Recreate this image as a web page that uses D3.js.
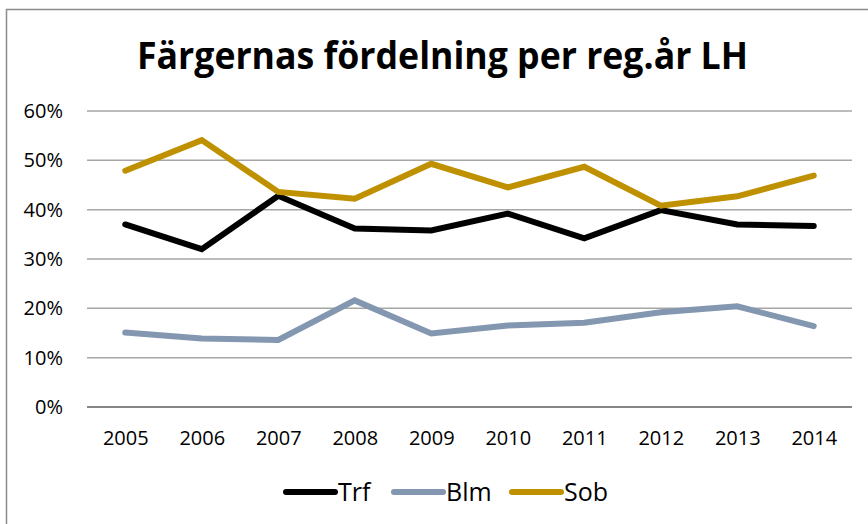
<!DOCTYPE html>
<html>
<head>
<meta charset="utf-8">
<script src="https://cdn.jsdelivr.net/npm/d3@7"></script>
<style>
  html, body { margin: 0; padding: 0; background: #fff; }
  svg { display: block; font-family: "Open Sans", sans-serif; }
</style>
</head>
<body>
<div id="chart"></div>
<script>
const years = ["2005", "2006", "2007", "2008", "2009", "2010", "2011", "2012", "2013", "2014"]
const trf = [0.370, 0.320, 0.428, 0.362, 0.358, 0.392, 0.342, 0.399, 0.370, 0.367]
const blm = [0.151, 0.139, 0.136, 0.216, 0.149, 0.165, 0.171, 0.192, 0.204, 0.164]
const sob = [0.479, 0.541, 0.436, 0.422, 0.493, 0.445, 0.487, 0.408, 0.427, 0.469]
const yTicks = [0, 0.1, 0.2, 0.3, 0.4, 0.5, 0.6]
const title = "Färgernas fördelning per reg.år LH"

const series = [
  { name: "Trf", values: trf, color: "#000000" },
  { name: "Blm", values: blm, color: "#8497B0" },
  { name: "Sob", values: sob, color: "#BF9000" }
]

const width = 868
const height = 524
const plot = { left: 87, right: 852, top: 111, bottom: 407 }

const svg = d3.select("#chart")
  .append("svg")
  .attr("width", width)
  .attr("height", height)

// chart border (right and bottom edges fall outside the picture)
svg.append("rect")
  .attr("x", 6.5)
  .attr("y", 9.5)
  .attr("width", 880)
  .attr("height", 540)
  .attr("fill", "#fff")
  .attr("stroke", "#8c8c8c")
  .attr("stroke-width", 1.5)

const titleText = svg.append("text")
  .attr("x", 137)
  .attr("y", 69)
  .attr("font-size", 37)
  .attr("font-weight", 700)
  .attr("fill", "#000")
  .text(title)
const tLen = titleText.node().getComputedTextLength()
if (tLen > 611) {
  titleText.attr("textLength", 611).attr("lengthAdjust", "spacingAndGlyphs")
}

const x = d3.scalePoint()
  .domain(years)
  .range([plot.left, plot.right])
  .padding(0.5)

const y = d3.scaleLinear()
  .domain([0, 0.6])
  .range([plot.bottom, plot.top])

// gridlines
svg.append("g")
  .selectAll("line")
  .data(yTicks.filter(d => d > 0))
  .join("line")
  .attr("x1", plot.left)
  .attr("x2", plot.right)
  .attr("y1", d => y(d))
  .attr("y2", d => y(d))
  .attr("stroke", "#a6a6a6")
  .attr("stroke-width", 1.5)

// y axis labels
const yAxis = svg.append("g")
  .attr("transform", `translate(${plot.left},0)`)
  .call(d3.axisLeft(y).tickValues(yTicks).tickFormat(d3.format(".0%")).tickSize(0).tickPadding(24))
yAxis.select(".domain").remove()
yAxis.selectAll("text")
  .attr("font-family", "Open Sans")
  .attr("font-size", 20)
  .attr("fill", "#000")

// x axis
const xAxis = svg.append("g")
  .attr("transform", `translate(0,${plot.bottom})`)
  .call(d3.axisBottom(x).tickSize(0).tickPadding(24))
xAxis.select(".domain")
  .attr("d", `M${plot.left},0H${plot.right}`)
  .attr("stroke", "#868686")
  .attr("stroke-width", 2)
xAxis.selectAll("text")
  .attr("font-family", "Open Sans")
  .attr("font-size", 20)
  .attr("fill", "#000")

const line = d3.line()
  .x((d, i) => x(years[i]))
  .y(d => y(d))

svg.append("g")
  .selectAll("path")
  .data(series)
  .join("path")
  .attr("d", d => line(d.values))
  .attr("fill", "none")
  .attr("stroke", d => d.color)
  .attr("stroke-width", 6)
  .attr("stroke-linejoin", "miter")
  .attr("stroke-linecap", "round")

// legend
const legendX = [286, 394, 512]
const legend = svg.append("g")
  .selectAll("g")
  .data(series)
  .join("g")
  .attr("transform", (d, i) => `translate(${legendX[i]},492)`)

legend.append("line")
  .attr("x1", 0)
  .attr("x2", 49)
  .attr("stroke", d => d.color)
  .attr("stroke-width", 6)
  .attr("stroke-linecap", "round")

legend.append("text")
  .attr("x", 52)
  .attr("y", 9)
  .attr("font-size", 25)
  .attr("fill", "#000")
  .text(d => d.name)
</script>
</body>
</html>
